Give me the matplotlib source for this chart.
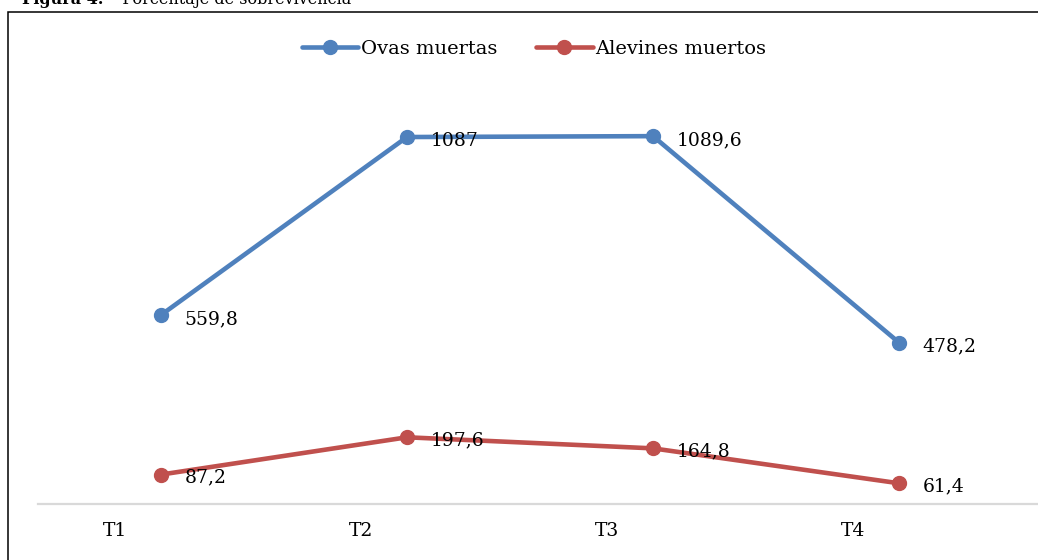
import matplotlib
matplotlib.use('Agg')
import matplotlib.pyplot as plt
import matplotlib.transforms as mtransforms
from matplotlib.patches import Rectangle

# Datos
categorias = ['T1', 'T2', 'T3', 'T4']
ovas_muertas = [559.8, 1087, 1089.6, 478.2]
alevines_muertos = [87.2, 197.6, 164.8, 61.4]
etiquetas_ovas = ['559,8', '1087', '1089,6', '478,2']
etiquetas_alevines = ['87,2', '197,6', '164,8', '61,4']

AZUL = '#4F81BD'
ROJO = '#C0504D'
FUENTE = ['DejaVu Serif']

W, H = 1038, 560
fig = plt.figure(figsize=(W / 100, H / 100), dpi=100)

# Titulo (recortado arriba, como en la figura original)
fig.text(22 / W, 1 - 4 / H, 'Figura 4.', fontsize=11.5, fontweight='bold',
         family=FUENTE, va='baseline', ha='left')
fig.text(104 / W, 1 - 4 / H, '–  Porcentaje de sobrevivencia', fontsize=11.5,
         family=FUENTE, va='baseline', ha='left')

# Marco del grafico
fig.patches.append(Rectangle((8 / W, -0.1), 1.2, 1 - 12 / H + 0.1,
                             transform=fig.transFigure, fill=False,
                             edgecolor='black', linewidth=1.1))

# Area de trazado
left, right, bottom, top = 38, 1038, 504, 60
ax = fig.add_axes([left / W, 1 - bottom / H, (right - left) / W, (bottom - top) / H])
escala = 0.3376  # px por unidad
ymax = (bottom - top) / escala
x = list(range(len(categorias)))
ax.set_xlim(-0.5, -0.5 + (right - left) / 246)
ax.set_ylim(0, ymax)

l1, = ax.plot(x, ovas_muertas, color=AZUL, linewidth=3.3, marker='o',
              markersize=10, label='Ovas muertas', solid_capstyle='round', zorder=3)
l2, = ax.plot(x, alevines_muertos, color=ROJO, linewidth=3.3, marker='o',
              markersize=10, label='Alevines muertos', solid_capstyle='round', zorder=3)

for xi, yi, txt in zip(x, ovas_muertas, etiquetas_ovas):
    ax.annotate(txt, (xi, yi), xytext=(17, -3), textcoords='offset points',
                ha='left', va='center', fontsize=13.5, family=FUENTE, zorder=4)
for xi, yi, txt in zip(x, alevines_muertos, etiquetas_alevines):
    ax.annotate(txt, (xi, yi), xytext=(17, -2), textcoords='offset points',
                ha='left', va='center', fontsize=13.5, family=FUENTE, zorder=4)

# Ejes
for s in ['top', 'right', 'left']:
    ax.spines[s].set_visible(False)
ax.spines['bottom'].set_color('#D9D9D9')
ax.spines['bottom'].set_linewidth(1.6)
ax.set_yticks([])
ax.set_xticks(x)
ax.set_xticklabels(categorias, family=FUENTE, fontsize=13.5)
ax.tick_params(axis='x', length=0, pad=13)
desplaza = mtransforms.ScaledTranslation(-46 / 100, 0, fig.dpi_scale_trans)
for lab in ax.get_xticklabels():
    lab.set_transform(lab.get_transform() + desplaza)
ax.patch.set_visible(False)

fig.legend(handles=[l1, l2], loc='center', bbox_to_anchor=(534 / W, 1 - 49 / H),
           ncol=2, frameon=False, prop={'family': FUENTE, 'size': 14},
           handlelength=2.9, handletextpad=0.15, columnspacing=2.0)

fig.savefig('out.png', dpi=100)
